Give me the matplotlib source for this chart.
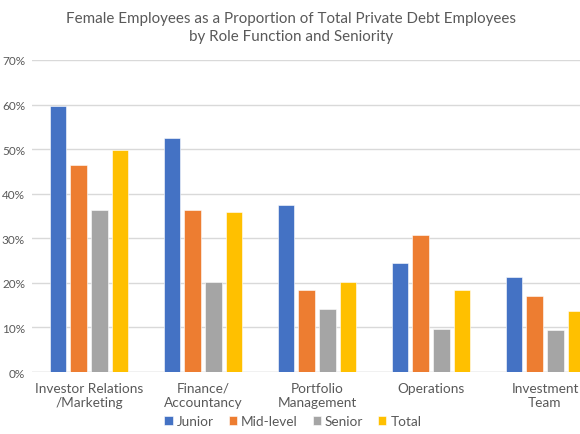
import numpy as np
import matplotlib.pyplot as plt
from matplotlib.ticker import PercentFormatter

categories = ['Investor Relations\n/Marketing', 'Finance/\nAccountancy', 'Portfolio\nManagement',
              'Operations', 'Investment\nTeam']
series = ['Junior', 'Mid-level', 'Senior', 'Total']
junior = [59.7, 52.4, 37.4, 24.5, 21.3]
mid_level = [46.5, 36.3, 18.5, 30.7, 17.1]
senior = [36.4, 20.3, 14.1, 9.7, 9.5]
total = [49.7, 35.8, 20.1, 18.5, 13.7]
colors = ['#4472C4', '#ED7D31', '#A5A5A5', '#FFC000']

plt.rcParams['font.family'] = ['Lato', 'DejaVu Sans']
text_color = '#595959'

fig = plt.figure(figsize=(5.8, 4.35), dpi=100)
ax = fig.add_axes([32 / 580, 0.1425, 570 / 580, 0.7173])

x = np.arange(len(categories))
step = 0.182
width = 0.145
for i, (name, vals) in enumerate(zip(series, [junior, mid_level, senior, total])):
    ax.bar(x + (i - 1.5) * step, vals, width, color=colors[i], label=name,
           edgecolor='white', linewidth=0.4, zorder=3)

ax.set_xlim(-0.5, len(categories) - 0.5)
ax.set_ylim(0, 70)
ax.set_yticks(range(0, 71, 10))
ax.yaxis.set_major_formatter(PercentFormatter(decimals=0))
ax.grid(axis='y', color='#D9D9D9', linewidth=1, zorder=0)
for s in ax.spines.values():
    s.set_visible(False)
ax.axhline(0, color='#D9D9D9', linewidth=1, zorder=1)
ax.tick_params(axis='both', length=0, colors=text_color)
ax.tick_params(axis='y', pad=5, labelsize=8.5)
ax.tick_params(axis='x', pad=7, labelsize=9.8)
ax.set_xticks(x)
ax.set_xticklabels(categories, linespacing=1.2)

fig.text(291 / 580, 1 - 28 / 435,
         'Female Employees as a Proportion of Total Private Debt Employees\nby Role Function and Seniority',
         ha='center', va='center', fontsize=10.9, color=text_color, linespacing=1.3)

fig.legend(loc='center', bbox_to_anchor=(293 / 580, 1 - 422 / 435), ncol=4, frameon=False,
           fontsize=9.8, handlelength=0.6, handleheight=0.6, handletextpad=0.3,
           columnspacing=1.1, labelcolor=text_color)

fig.savefig('out.png', dpi=100)
